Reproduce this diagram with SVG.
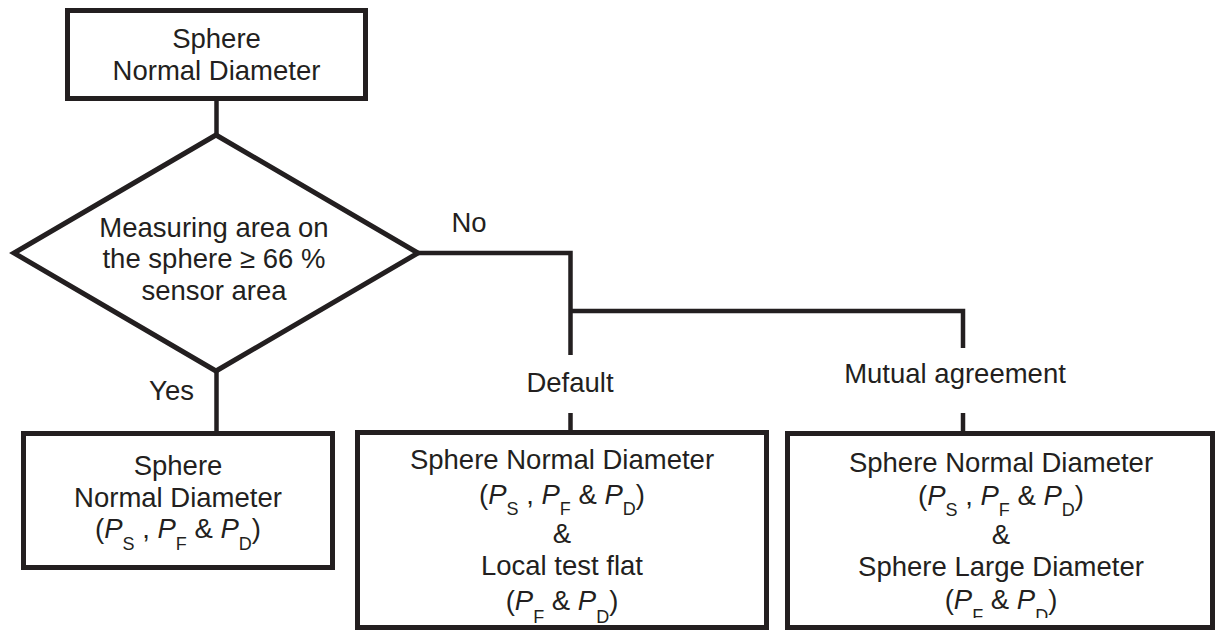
<svg xmlns="http://www.w3.org/2000/svg" width="1216" height="630" viewBox="0 0 1216 630">
  <defs>
    <style>
      .shape { fill: #ffffff; stroke: #231f20; stroke-width: 5; stroke-linejoin: miter; }
      .wire { fill: none; stroke: #231f20; stroke-width: 4.5; stroke-linecap: butt; }
      .txt { font-family: "Liberation Sans", Arial, sans-serif; font-size: 27.5px; fill: #231f20; text-anchor: middle; }
      .it { font-style: italic; }
      .sub { font-size: 18px; }
    </style>
    <clipPath id="clipRight">
      <rect x="780" y="430" width="436" height="188"/>
    </clipPath>
  </defs>

  <!-- connectors -->
  <g id="connectors">
    <line class="wire" x1="216.5" y1="99" x2="216.5" y2="136"/>
    <line class="wire" x1="216.5" y1="370" x2="216.5" y2="433"/>
    <polyline class="wire" points="418,253 570.5,253 570.5,355"/>
    <polyline class="wire" points="570.5,311 963,311 963,348"/>
    <line class="wire" x1="570.5" y1="413" x2="570.5" y2="432"/>
    <line class="wire" x1="963" y1="413" x2="963" y2="433"/>
    <text class="txt" x="469" y="232">No</text>
    <text class="txt" x="171.5" y="400">Yes</text>
    <text class="txt" x="570" y="392">Default</text>
    <text class="txt" x="955" y="383">Mutual agreement</text>
  </g>

  <!-- start: normal diameter -->
  <g id="start">
    <rect class="shape" x="67.5" y="10.5" width="298" height="88"/>
    <text class="txt" x="216.5" y="48">Sphere</text>
    <text class="txt" x="216.5" y="80">Normal Diameter</text>
  </g>

  <!-- decision -->
  <g id="decision">
    <polygon class="shape" points="216,135 418,253 216,371 14,253"/>
    <text class="txt" x="214" y="237">Measuring area on</text>
    <text class="txt" x="214" y="268">the sphere ≥ 66 %</text>
    <text class="txt" x="214" y="300">sensor area</text>
  </g>

  <!-- yes branch result -->
  <g id="yesResult">
    <rect class="shape" x="23.5" y="433.5" width="309" height="134"/>
    <text class="txt" x="178" y="475">Sphere</text>
    <text class="txt" x="178" y="507">Normal Diameter</text>
    <text class="txt" x="178" y="538">(<tspan class="it">P</tspan><tspan class="sub" dy="12">S</tspan><tspan dy="-12"> , </tspan><tspan class="it">P</tspan><tspan class="sub" dy="12">F</tspan><tspan dy="-12"> &amp; </tspan><tspan class="it">P</tspan><tspan class="sub" dy="12">D</tspan><tspan dy="-12">)</tspan></text>
  </g>

  <!-- default result -->
  <g id="defaultResult">
    <rect class="shape" x="357.5" y="432.5" width="409" height="195"/>
    <text class="txt" x="562" y="469">Sphere Normal Diameter</text>
    <text class="txt" x="562" y="504">(<tspan class="it">P</tspan><tspan class="sub" dy="11">S</tspan><tspan dy="-11"> , </tspan><tspan class="it">P</tspan><tspan class="sub" dy="11">F</tspan><tspan dy="-11"> &amp; </tspan><tspan class="it">P</tspan><tspan class="sub" dy="11">D</tspan><tspan dy="-11">)</tspan></text>
    <text class="txt" x="562" y="543">&amp;</text>
    <text class="txt" x="562" y="575">Local test flat</text>
    <text class="txt" x="562" y="610">(<tspan class="it">P</tspan><tspan class="sub" dy="13">F</tspan><tspan dy="-13"> &amp; </tspan><tspan class="it">P</tspan><tspan class="sub" dy="13">D</tspan><tspan dy="-13">)</tspan></text>
  </g>

  <!-- mutual agreement result -->
  <g id="mutualResult">
    <rect class="shape" x="787.5" y="433.5" width="425" height="194"/>
    <g clip-path="url(#clipRight)">
      <text class="txt" x="1001" y="472">Sphere Normal Diameter</text>
      <text class="txt" x="1001" y="505">(<tspan class="it">P</tspan><tspan class="sub" dy="11">S</tspan><tspan dy="-11"> , </tspan><tspan class="it">P</tspan><tspan class="sub" dy="11">F</tspan><tspan dy="-11"> &amp; </tspan><tspan class="it">P</tspan><tspan class="sub" dy="11">D</tspan><tspan dy="-11">)</tspan></text>
      <text class="txt" x="1001" y="544">&amp;</text>
      <text class="txt" x="1001" y="576">Sphere Large Diameter</text>
      <text class="txt" x="1001" y="609">(<tspan class="it">P</tspan><tspan class="sub" dy="13">F</tspan><tspan dy="-13"> &amp; </tspan><tspan class="it">P</tspan><tspan class="sub" dy="13">D</tspan><tspan dy="-13">)</tspan></text>
    </g>
  </g>
</svg>
